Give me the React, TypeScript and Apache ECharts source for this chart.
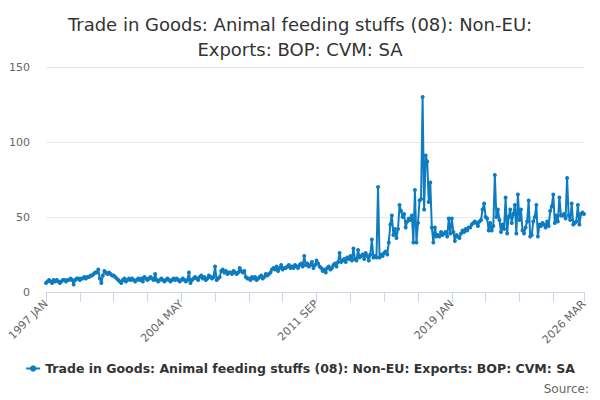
import { useEffect, useRef } from 'react';
import * as echarts from 'echarts';

const seriesName = 'Trade in Goods: Animal feeding stuffs (08): Non-EU: Exports: BOP: CVM: SA';
const titleText = 'Trade in Goods: Animal feeding stuffs (08): Non-EU:\nExports: BOP: CVM: SA';

const monthNames = ['JAN', 'FEB', 'MAR', 'APR', 'MAY', 'JUN', 'JUL', 'AUG', 'SEP', 'OCT', 'NOV', 'DEC'];
const firstYear = 1997;
const lastYear = 2026;
const lastMonths = 3; // 2026 runs to MAR

// labels shown under the x axis
const shownLabels = ['1997 JAN', '2004 MAY', '2011 SEP', '2019 JAN', '2026 MAR'];
const yTicks = [0, 50, 100, 150];

// monthly values, one row per year
const v1997 = [6, 7, 8, 7, 6, 8, 7, 8, 7, 6, 7, 8];
const v1998 = [8, 7, 8, 8, 9, 8, 5, 8, 9, 9, 8, 9];
const v1999 = [9, 10, 9, 10, 10, 11, 11, 12, 13, 13, 15, 9];
const v2000 = [6, 11, 14, 13, 12, 13, 12, 11, 11, 10, 9, 8];
const v2001 = [7, 6, 8, 9, 7, 8, 9, 8, 9, 8, 7, 8];
const v2002 = [9, 8, 9, 7, 10, 9, 8, 9, 10, 9, 8, 12];
const v2003 = [8, 7, 8, 9, 8, 7, 8, 9, 8, 7, 8, 9];
const v2004 = [8, 9, 8, 7, 8, 9, 8, 7, 8, 13, 6, 8];
const v2005 = [9, 10, 9, 8, 10, 11, 9, 10, 8, 9, 11, 10];
const v2006 = [9, 10, 17, 8, 9, 10, 14, 15, 13, 14, 12, 13];
const v2007 = [13, 12, 14, 13, 12, 13, 16, 14, 13, 14, 10, 9];
const v2008 = [9, 8, 10, 9, 10, 8, 9, 10, 11, 9, 10, 12];
const v2009 = [11, 12, 13, 15, 16, 15, 17, 14, 16, 18, 15, 16];
const v2010 = [16, 17, 18, 16, 17, 16, 18, 17, 16, 18, 19, 17];
const v2011 = [24, 18, 19, 17, 18, 20, 16, 18, 21, 19, 17, 16];
const v2012 = [14, 15, 13, 16, 17, 15, 16, 18, 19, 17, 20, 26];
const v2013 = [20, 21, 22, 20, 23, 22, 24, 21, 29, 22, 21, 28];
const v2014 = [23, 24, 25, 22, 26, 24, 21, 25, 35, 23, 24, 23];
const v2015 = [70, 23, 25, 24, 26, 27, 25, 33, 45, 51, 38, 42];
const v2016 = [36, 42, 58, 54, 50, 52, 43, 47, 49, 48, 51, 33];
const v2017 = [68, 33, 46, 61, 62, 130, 55, 91, 87, 60, 73, 43];
const v2018 = [33, 43, 37, 38, 37, 40, 38, 39, 40, 37, 49, 39];
const v2019 = [49, 40, 34, 38, 37, 36, 39, 41, 40, 42, 41, 43];
const v2020 = [43, 45, 46, 47, 46, 44, 47, 48, 55, 59, 50, 49];
const v2021 = [41, 46, 41, 44, 78, 50, 55, 48, 40, 45, 42, 63];
const v2022 = [39, 50, 55, 46, 52, 58, 39, 65, 48, 55, 41, 39];
const v2023 = [43, 47, 61, 37, 38, 47, 50, 58, 37, 45, 44, 46];
const v2024 = [45, 43, 47, 44, 54, 57, 65, 46, 51, 47, 63, 51];
const v2025 = [51, 52, 49, 76, 51, 48, 59, 45, 46, 47, 58, 45];
const v2026 = [52, 53, 52];

const values = [
  ...v1997, ...v1998, ...v1999, ...v2000, ...v2001, ...v2002, ...v2003, ...v2004,
  ...v2005, ...v2006, ...v2007, ...v2008, ...v2009, ...v2010, ...v2011, ...v2012,
  ...v2013, ...v2014, ...v2015, ...v2016, ...v2017, ...v2018, ...v2019, ...v2020,
  ...v2021, ...v2022, ...v2023, ...v2024, ...v2025, ...v2026,
];

const categories: string[] = [];
for (let y = firstYear; y <= lastYear; y++) {
  const n = y === lastYear ? lastMonths : 12;
  for (let m = 0; m < n; m++) categories.push(`${y} ${monthNames[m]}`);
}

const App = () => {
  const chartRef = useRef<HTMLDivElement>(null);

  useEffect(() => {
    if (!chartRef.current) return;
    document.body.style.margin = '0';
    const chart = echarts.init(chartRef.current, null, { renderer: 'svg' });
    const lastIdx = categories.length - 1;

    chart.setOption({
      animation: false,
      textStyle: { fontFamily: 'DejaVu Sans' },
      title: {
        text: titleText,
        left: 'center',
        top: 7,
        textStyle: {
          fontSize: 18,
          fontWeight: 'normal',
          color: '#333',
          lineHeight: 25,
          fontFamily: 'DejaVu Sans',
        },
      },
      grid: { left: 46, right: 16, top: 67, bottom: 108 },
      legend: {
        bottom: 20,
        left: 'center',
        itemWidth: 14,
        itemHeight: 8,
        itemGap: 4,
        textStyle: { fontSize: 12.5, fontWeight: 'bold', color: '#333' },
        data: [seriesName],
      },
      graphic: [
        {
          type: 'text',
          right: 11,
          bottom: 5,
          style: { text: 'Source:', fontSize: 12, fill: '#666', fontFamily: 'DejaVu Sans' },
        },
      ],
      xAxis: {
        type: 'category',
        data: categories,
        boundaryGap: false,
        axisLine: { lineStyle: { color: '#ccd6eb' } },
        axisTick: {
          length: 10,
          lineStyle: { color: '#ccd6eb' },
          interval: (i: number) => i % 22 === 0 || i === lastIdx,
        },
        axisLabel: {
          rotate: 45,
          fontSize: 11,
          color: '#666',
          margin: 10,
          interval: (_i: number, v: string) => shownLabels.includes(v),
        },
      },
      yAxis: {
        type: 'value',
        min: yTicks[0],
        max: yTicks[yTicks.length - 1],
        interval: 50,
        axisLine: { show: false },
        axisTick: { show: false },
        axisLabel: { fontSize: 11, color: '#666', margin: 16 },
        splitLine: { lineStyle: { color: '#e6e6e6' } },
      },
      series: [
        {
          name: seriesName,
          type: 'line',
          data: values,
          symbol: 'circle',
          symbolSize: 4,
          showAllSymbol: true,
          itemStyle: { color: '#0d7cc1' },
          lineStyle: { color: '#0d7cc1', width: 2 },
        },
      ],
    });

    return () => {
      chart.dispose();
    };
  }, []);

  return <div ref={chartRef} style={{ width: 600, height: 400 }} />;
};

export default App;
